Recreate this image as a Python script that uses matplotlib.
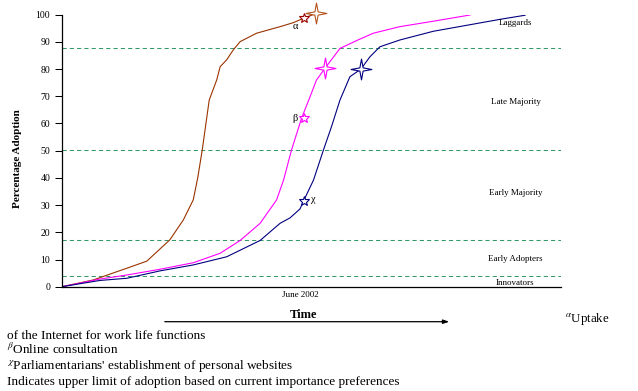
import matplotlib
matplotlib.use("Agg")
import matplotlib.pyplot as plt
import numpy as np
from matplotlib.path import Path
from matplotlib.markers import MarkerStyle

plt.rcParams['font.family'] = ['Liberation Serif', 'DejaVu Serif']
plt.rcParams['mathtext.fontset'] = 'stix'

# curves (time in arbitrary units 0-100, % adoption)
uptake_x = [0, 6.3, 13, 17, 21.6, 24.3, 26.3, 27.2, 28.1, 29.5, 31, 31.7, 33, 34.3, 35.7, 39, 43.7, 46.4, 48.4, 51]
uptake_y = [0, 2.5, 6.8, 9.4, 17.2, 24.5, 31.9, 40, 50.2, 68.6, 76, 80.9, 83.4, 87, 90.1, 93.2, 95.6, 97.1, 98.7, 100.5]

online_x = [0, 7.6, 13, 19.6, 26.3, 31.7, 35.7, 39.7, 43, 44.4, 46, 48, 49.7, 51, 52.7, 55.7, 59.3, 62.4, 67.7, 74.4, 81.8]
online_y = [0, 2.8, 4.3, 6.4, 8.8, 12.3, 17, 23.3, 31.9, 39.2, 50.3, 61.9, 69.8, 76, 80.3, 87.6, 90.7, 93.2, 95.6, 97.6, 99.9]

web_x = [0, 7.6, 13, 19.6, 26.3, 33, 39.7, 43.7, 45.7, 47.7, 48.4, 50.4, 52.4, 54, 55.7, 57.7, 59.9, 61.7, 63.7, 67.7, 74.4, 81.1, 87.8, 92.8]
web_y = [0, 2.3, 3.1, 5.8, 8, 11, 17, 23.3, 25.3, 28.6, 31.5, 39.2, 50.3, 58.8, 68.6, 77.2, 80, 84.5, 88.2, 90.7, 93.9, 96.1, 98.3, 99.8]

# "now" points (small stars) and upper limits (big stars)
now_x = [48.4, 48.4, 48.4]
now_y = [98.7, 61.9, 31.5]
limit_x = [51, 52.7, 59.9]
limit_y = [100.5, 80.3, 80]
greek = ['α', 'β', 'χ']
greek_x = [46.7, 46.7, 50.4]
greek_y = [95.8, 61.9, 32.1]

# adopter category boundaries and labels
bounds = [3.8, 17, 50.4, 87.6]
cat_names = ['Laggards', 'Late Majority', 'Early Majority', 'Early Adopters', 'Innovators']
cat_x = [90.8, 91, 91, 90.8, 90.8]
cat_y = [96.8, 67.8, 34.4, 10.2, 1.4]

yticks = list(range(0, 101, 10))
june_x = 47.7

line_cols = ['#993300', '#FF00FF', '#000080']
small_cols = ['#990000', '#FF00FF', '#000080']
big_cols = ['#B5541C', '#FF00FF', '#000080']

# thin four pointed star
ang = np.pi / 2 - np.arange(8) * np.pi / 4
rad = np.where(np.arange(8) % 2 == 0, 1.0, 0.22)
verts = np.column_stack([rad * np.cos(ang), rad * np.sin(ang)])
verts = np.vstack([verts, verts[:1]])
star4 = MarkerStyle(Path(verts, [Path.MOVETO] + [Path.LINETO] * 7 + [Path.CLOSEPOLY]),
                    joinstyle='round')

fig = plt.figure(figsize=(6.38, 3.91), dpi=100)
ax = fig.add_axes([62 / 638, 1 - 286.7 / 391, 499 / 638, 272 / 391])

for b in bounds:
    ax.axhline(b, color='#339966', lw=0.75, dashes=(4, 3), zorder=1)

for xs, ys, c in zip([uptake_x, online_x, web_x], [uptake_y, online_y, web_y], line_cols):
    ax.plot(xs, ys, color=c, lw=0.8, zorder=2)

for i in range(3):
    ax.plot(now_x[i], now_y[i], marker='*', ms=7.5, mfc='white', mec=small_cols[i], mew=0.8,
            zorder=3, clip_on=False)
    ax.plot(limit_x[i], limit_y[i], marker=star4, ms=15, mfc='white', mec=big_cols[i], mew=0.8,
            zorder=4, clip_on=False)
    ax.text(greek_x[i], greek_y[i], greek[i], fontsize=7.5, ha='center', va='center')

for name, x, y in zip(cat_names, cat_x, cat_y):
    ax.text(x, y, name, fontsize=6.5, ha='center', va='center')

ax.set_xlim(0, 100)
ax.set_ylim(0, 100)
ax.set_yticks(yticks)
ax.set_xticks([june_x])
ax.set_xticklabels(['June 2002'], fontsize=6.5)
ax.tick_params(axis='x', length=0, pad=3)
ax.tick_params(axis='y', length=5, width=0.75, pad=3.5, labelsize=7)
ax.spines['top'].set_visible(False)
ax.spines['right'].set_visible(False)
ax.spines['left'].set_linewidth(0.9)
ax.spines['bottom'].set_linewidth(0.9)
ax.set_ylabel('Percentage Adoption', fontsize=8, fontweight='bold')
ax.yaxis.set_label_coords(-(62 - 22) / 499, (286.7 - 159) / 272)

# time arrow and footnotes
fig.text(304 / 638, 1 - 315.5 / 391, 'Time', fontsize=9, fontweight='bold', ha='center', va='center')
ax.annotate('', xy=(452 / 638, 1 - 321.7 / 391), xytext=(162 / 638, 1 - 321.7 / 391),
            xycoords='figure fraction', textcoords='figure fraction',
            arrowprops=dict(arrowstyle='-|>,head_length=0.35,head_width=0.12', color='black', lw=0.9))

fig.text(565 / 638, 1 - 319 / 391, '$^{\\alpha}$Uptake', fontsize=9.3, ha='left', va='center')
notes = ['of the Internet for work life functions',
         '$^{\\beta}$Online consultation',
         "$^{\\chi}$Parliamentarians' establishment of personal websites",
         'Indicates upper limit of adoption based on current importance preferences']
note_y = [335.7, 349.3, 366, 381.7]
for t, y in zip(notes, note_y):
    fig.text(7 / 638, 1 - y / 391, t, fontsize=9.5, ha='left', va='center')

fig.savefig('out.png', dpi=100)
